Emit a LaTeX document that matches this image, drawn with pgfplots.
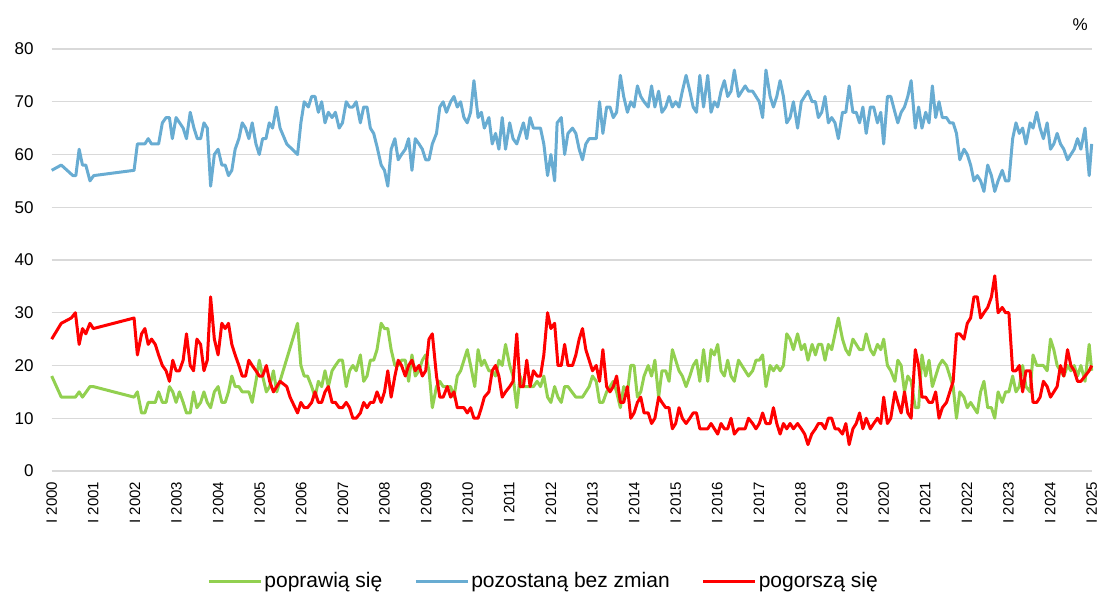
\documentclass[border=0pt]{standalone}
\usepackage{pgfplots}
\pgfplotsset{compat=1.18}
\usepackage{fontspec}
\setmainfont{Liberation Sans}
\definecolor{cgreen}{RGB}{146,208,80}
\definecolor{cblue}{RGB}{104,172,210}
\definecolor{cred}{RGB}{255,0,0}
\definecolor{cgrid}{RGB}{217,217,217}
\begin{document}
\begin{tikzpicture}
\path[use as bounding box] (-51.7pt,-122pt) rectangle (1046.3pt,471pt);
\begin{axis}[
  scale only axis, clip=false,
  width=1040pt, height=422pt,
  xmin=2000, xmax=2025, ymin=0, ymax=80,
  axis line style={draw=none},
  ymajorgrids, grid style={cgrid, line width=1.3pt},
  major tick length=0pt,
  ytick={0,10,...,80},
  xtick={2000,2001,...,2025},
  xticklabels={I 2000,I 2001,I 2002,I 2003,I 2004,I 2005,I 2006,I 2007,I 2008,I 2009,I 2010,I 2011,I 2012,I 2013,I 2014,I 2015,I 2016,I 2017,I 2018,I 2019,I 2020,I 2021,I 2022,I 2023,I 2024,I 2025},
  /pgf/number format/assume math mode=true,
  yticklabel style={font=\fontsize{17}{20}\selectfont, anchor=east, inner sep=0pt, xshift=-18pt},
  xticklabel style={font=\fontsize{15}{18}\selectfont, yshift=-10.5pt, rotate=90, anchor=east, inner sep=0pt},
  legend columns=3,
  legend style={at={(0.473,-0.261)}, anchor=center, draw=none, fill=none,
    font=\fontsize{21}{24}\selectfont,
    /tikz/every even column/.append style={column sep=30pt}},
  legend image code/.code={\draw[#1, line width=3pt] (0pt,0pt) -- (52pt,0pt);},
]
\addplot[cgreen, line width=3pt, line join=round] coordinates {
(2000.00,18) (2000.23,14) (2000.57,14) (2000.66,15) (2000.74,14) (2000.92,16) (2001.00,16) (2001.98,14) (2002.06,15) (2002.16,11) (2002.24,11) (2002.32,13) (2002.49,13) (2002.57,15) (2002.66,13) (2002.75,13) (2002.83,16) (2002.91,15) (2002.99,13) (2003.07,15) (2003.16,13) (2003.24,11) (2003.33,11) (2003.41,15) (2003.49,12) (2003.58,13) (2003.66,15) (2003.74,13) (2003.82,12) (2003.91,15) (2004.00,16) (2004.09,13) (2004.17,13) (2004.25,15) (2004.33,18) (2004.41,16) (2004.50,16) (2004.58,15) (2004.74,15) (2004.82,13) (2004.91,17) (2004.99,21) (2005.07,18) (2005.16,15) (2005.24,16) (2005.33,19) (2005.41,15) (2005.91,28) (2005.99,20) (2006.07,18) (2006.15,18) (2006.25,16) (2006.33,14) (2006.41,17) (2006.49,16) (2006.57,19) (2006.65,16) (2006.74,19) (2006.82,20) (2006.91,21) (2006.99,21) (2007.08,16) (2007.16,19) (2007.24,20) (2007.32,19) (2007.42,22) (2007.50,17) (2007.58,18) (2007.66,21) (2007.74,21) (2007.82,23) (2007.92,28) (2008.00,27) (2008.08,27) (2008.16,23) (2008.25,20) (2008.33,20) (2008.41,21) (2008.50,21) (2008.58,17) (2008.66,22) (2008.74,18) (2008.83,19) (2008.91,21) (2008.99,22) (2009.07,19) (2009.15,12) (2009.25,16) (2009.33,17) (2009.41,16) (2009.51,16) (2009.59,16) (2009.67,14) (2009.75,18) (2009.83,19) (2009.91,21) (2009.99,23) (2010.07,20) (2010.17,16) (2010.25,23) (2010.33,20) (2010.40,21) (2010.51,19) (2010.59,19) (2010.67,18) (2010.75,21) (2010.83,20) (2010.91,24) (2011.01,20) (2011.09,18) (2011.18,12) (2011.26,18) (2011.34,16) (2011.42,16) (2011.50,16) (2011.58,16) (2011.67,17) (2011.75,16) (2011.83,18) (2011.92,14) (2012.00,13) (2012.09,16) (2012.17,14) (2012.25,13) (2012.33,16) (2012.41,16) (2012.60,14) (2012.76,14) (2012.92,16) (2013.00,18) (2013.09,17) (2013.17,13) (2013.25,13) (2013.34,15) (2013.42,16) (2013.50,17) (2013.58,15) (2013.67,12) (2013.75,16) (2013.84,15) (2013.92,20) (2014.00,20) (2014.08,14) (2014.16,15) (2014.24,18) (2014.34,20) (2014.42,18) (2014.50,21) (2014.59,14) (2014.67,19) (2014.76,19) (2014.84,17) (2014.92,23) (2015.00,21) (2015.08,19) (2015.16,18) (2015.25,16) (2015.34,18) (2015.42,20) (2015.50,21) (2015.58,17) (2015.67,23) (2015.77,17) (2015.85,23) (2015.93,22) (2016.01,24) (2016.09,19) (2016.17,18) (2016.25,21) (2016.33,18) (2016.41,17) (2016.51,21) (2016.67,19) (2016.75,18) (2016.85,19) (2016.93,21) (2017.01,21) (2017.09,22) (2017.17,16) (2017.27,20) (2017.35,19) (2017.43,20) (2017.51,19) (2017.59,20) (2017.67,26) (2017.75,25) (2017.83,23) (2017.93,26) (2018.02,23) (2018.10,24) (2018.18,21) (2018.28,24) (2018.36,22) (2018.43,24) (2018.51,24) (2018.59,21) (2018.67,24) (2018.75,23) (2018.83,26) (2018.91,29) (2019.01,25) (2019.09,23) (2019.17,22) (2019.26,25) (2019.34,24) (2019.42,23) (2019.50,23) (2019.58,26) (2019.68,23) (2019.76,22) (2019.85,24) (2019.93,23) (2020.00,25) (2020.09,20) (2020.17,19) (2020.27,17) (2020.34,21) (2020.42,20) (2020.50,15) (2020.58,18) (2020.66,17) (2020.76,12) (2020.84,12) (2020.92,22) (2021.01,18) (2021.09,21) (2021.17,16) (2021.25,18) (2021.33,20) (2021.41,21) (2021.51,20) (2021.59,18) (2021.67,16) (2021.75,10) (2021.83,15) (2021.93,14) (2022.01,12) (2022.09,13) (2022.17,12) (2022.25,11) (2022.33,15) (2022.41,17) (2022.50,12) (2022.59,12) (2022.67,10) (2022.75,15) (2022.85,13) (2022.93,15) (2023.01,15) (2023.10,18) (2023.18,15) (2023.26,16) (2023.34,20) (2023.42,16) (2023.52,15) (2023.59,22) (2023.68,20) (2023.76,20) (2023.84,20) (2023.93,19) (2024.01,25) (2024.09,23) (2024.17,20) (2024.25,19) (2024.33,18) (2024.42,20) (2024.50,19) (2024.58,20) (2024.66,18) (2024.74,20) (2024.84,17) (2024.94,24) (2025.00,19)
};
\addlegendentry{poprawią się}
\addplot[cblue, line width=3pt, line join=round] coordinates {
(2000.00,57) (2000.23,58) (2000.51,56) (2000.58,56) (2000.66,61) (2000.74,58) (2000.82,58) (2000.92,55) (2001.01,56) (2001.98,57) (2002.06,62) (2002.24,62) (2002.32,63) (2002.40,62) (2002.57,62) (2002.66,66) (2002.75,67) (2002.83,67) (2002.90,63) (2002.99,67) (2003.16,65) (2003.24,63) (2003.33,68) (2003.42,65) (2003.50,63) (2003.58,63) (2003.66,66) (2003.74,65) (2003.82,54) (2003.91,60) (2004.00,61) (2004.09,58) (2004.17,58) (2004.25,56) (2004.33,57) (2004.41,61) (2004.50,63) (2004.58,66) (2004.66,65) (2004.74,63) (2004.82,66) (2004.91,62) (2004.99,60) (2005.07,63) (2005.15,63) (2005.23,66) (2005.31,65) (2005.40,69) (2005.49,65) (2005.65,62) (2005.91,60) (2005.99,66) (2006.07,70) (2006.17,69) (2006.25,71) (2006.33,71) (2006.41,68) (2006.49,70) (2006.57,66) (2006.65,68) (2006.74,67) (2006.82,68) (2006.91,65) (2006.99,66) (2007.08,70) (2007.16,69) (2007.24,69) (2007.32,70) (2007.42,66) (2007.50,69) (2007.58,69) (2007.66,65) (2007.74,64) (2007.82,61.5) (2007.92,58) (2008.00,57) (2008.08,54) (2008.16,61) (2008.25,63) (2008.33,59) (2008.41,60) (2008.50,61) (2008.58,63) (2008.66,57) (2008.74,63) (2008.83,62) (2008.91,61) (2008.99,59) (2009.07,59) (2009.15,62) (2009.25,64) (2009.33,69) (2009.41,70) (2009.49,68) (2009.59,70) (2009.67,71) (2009.75,69) (2009.83,70) (2009.91,67) (2009.99,66) (2010.07,68) (2010.15,74) (2010.25,67) (2010.33,68) (2010.40,65) (2010.51,67) (2010.59,62) (2010.67,64) (2010.75,61) (2010.83,67) (2010.91,61) (2011.01,66) (2011.09,63) (2011.18,62) (2011.26,64) (2011.34,66) (2011.42,63) (2011.50,67) (2011.58,65) (2011.75,65) (2011.83,62) (2011.92,56) (2012.00,60) (2012.09,55) (2012.15,66) (2012.25,67) (2012.33,60) (2012.41,64) (2012.52,65) (2012.60,64) (2012.68,61) (2012.76,59) (2012.84,62) (2012.92,63) (2013.00,63) (2013.09,63) (2013.17,70) (2013.25,64) (2013.34,69) (2013.42,69) (2013.50,67) (2013.58,68) (2013.67,75) (2013.75,71) (2013.84,68) (2013.92,70) (2014.00,69) (2014.08,73) (2014.16,71) (2014.24,70) (2014.34,69) (2014.42,73) (2014.50,69) (2014.59,72) (2014.67,68) (2014.76,69) (2014.84,71) (2014.92,69) (2015.00,70) (2015.08,69) (2015.16,72) (2015.25,75) (2015.34,72) (2015.42,69) (2015.50,68) (2015.58,75) (2015.67,69) (2015.77,75) (2015.85,68) (2015.93,70) (2016.01,69) (2016.09,72) (2016.17,74) (2016.25,71) (2016.33,72) (2016.41,76) (2016.51,71) (2016.67,73) (2016.75,72) (2016.85,72) (2016.93,71) (2017.01,70) (2017.09,67) (2017.17,76) (2017.27,71) (2017.35,69) (2017.43,71) (2017.51,74) (2017.59,71) (2017.67,66) (2017.75,67) (2017.83,70) (2017.93,65) (2018.02,70) (2018.18,72) (2018.28,70) (2018.36,70) (2018.43,67) (2018.51,68) (2018.59,71) (2018.67,66) (2018.75,67) (2018.83,66) (2018.91,63) (2019.01,68) (2019.09,68) (2019.17,73) (2019.26,68) (2019.34,68) (2019.42,66) (2019.50,69) (2019.58,64) (2019.68,69) (2019.76,69) (2019.85,66) (2019.93,68) (2020.00,62) (2020.09,71) (2020.17,71) (2020.27,68) (2020.34,66) (2020.42,68) (2020.50,69) (2020.58,71) (2020.66,74) (2020.76,65) (2020.84,69) (2020.92,65) (2021.01,68) (2021.09,66) (2021.17,73) (2021.25,67) (2021.33,70) (2021.41,67) (2021.51,67) (2021.59,66) (2021.67,66) (2021.75,64) (2021.83,59) (2021.93,61) (2022.01,60) (2022.09,58) (2022.17,55) (2022.25,56) (2022.33,55) (2022.41,53) (2022.50,58) (2022.59,56) (2022.67,53) (2022.75,55) (2022.85,57) (2022.93,55) (2023.01,55) (2023.10,63) (2023.18,66) (2023.26,64) (2023.34,65) (2023.42,62) (2023.52,66) (2023.59,65) (2023.68,68) (2023.76,65) (2023.84,63) (2023.93,66) (2024.01,61) (2024.09,62) (2024.17,64) (2024.25,62) (2024.33,61) (2024.42,59) (2024.50,60) (2024.58,61) (2024.66,63) (2024.74,61) (2024.84,65) (2024.94,56) (2025.00,62)
};
\addlegendentry{pozostaną bez zmian}
\addplot[cred, line width=3pt, line join=round] coordinates {
(2000.00,25) (2000.23,28) (2000.47,29) (2000.57,30) (2000.66,24) (2000.74,27) (2000.82,26) (2000.92,28) (2001.00,27) (2001.98,29) (2002.06,22) (2002.16,26) (2002.24,27) (2002.32,24) (2002.40,25) (2002.49,24) (2002.57,22) (2002.66,20) (2002.75,19) (2002.83,17) (2002.91,21) (2002.99,19) (2003.07,19) (2003.16,21) (2003.24,26) (2003.33,20) (2003.41,19) (2003.49,25) (2003.58,24) (2003.66,19) (2003.74,21) (2003.82,33) (2003.91,25) (2004.00,22) (2004.09,28) (2004.17,27) (2004.25,28) (2004.33,24) (2004.41,22) (2004.50,20) (2004.58,18) (2004.66,18) (2004.74,21) (2004.82,20) (2004.91,19) (2004.99,18) (2005.07,18) (2005.16,20) (2005.24,17) (2005.33,15) (2005.49,17) (2005.65,16) (2005.73,14) (2005.91,11) (2005.99,13) (2006.07,12) (2006.15,12) (2006.25,13) (2006.33,15) (2006.41,13) (2006.49,13) (2006.57,15) (2006.65,16) (2006.74,13) (2006.82,13) (2006.91,12) (2006.99,12) (2007.08,13) (2007.16,12) (2007.24,10) (2007.32,10) (2007.42,11) (2007.50,13) (2007.58,12) (2007.66,13) (2007.74,13) (2007.82,15) (2007.92,13) (2008.00,15) (2008.08,19) (2008.16,14) (2008.25,18) (2008.33,21) (2008.41,20) (2008.50,18) (2008.58,20) (2008.66,21) (2008.74,19) (2008.83,20) (2008.91,18) (2008.99,19) (2009.07,25) (2009.15,26) (2009.25,18) (2009.33,14) (2009.41,14) (2009.51,16) (2009.59,14) (2009.67,15) (2009.75,12) (2009.83,12) (2009.91,12) (2009.99,11) (2010.07,12) (2010.15,10) (2010.25,10) (2010.33,12) (2010.40,14) (2010.51,15) (2010.59,19) (2010.67,20) (2010.75,18) (2010.83,14) (2010.91,15) (2011.01,16) (2011.09,17) (2011.18,26) (2011.26,16) (2011.34,16) (2011.42,21) (2011.50,16) (2011.58,19) (2011.67,18) (2011.75,18) (2011.83,22) (2011.92,30) (2012.00,27) (2012.09,28) (2012.17,20) (2012.25,20) (2012.33,24) (2012.41,20) (2012.52,20) (2012.60,22) (2012.68,25) (2012.76,27) (2012.84,23) (2012.92,21) (2013.00,19) (2013.09,20) (2013.17,17) (2013.25,23) (2013.34,16) (2013.42,15) (2013.50,16) (2013.58,18) (2013.67,13) (2013.75,13) (2013.84,16) (2013.92,10) (2014.00,11) (2014.08,13) (2014.16,14) (2014.24,11) (2014.34,11) (2014.42,9) (2014.50,10) (2014.59,14) (2014.67,13) (2014.76,12) (2014.84,12) (2014.92,8) (2015.00,9) (2015.08,12) (2015.16,10) (2015.25,9) (2015.34,10) (2015.42,11) (2015.50,11) (2015.58,8) (2015.67,8) (2015.77,8) (2015.85,9) (2015.93,8) (2016.01,7) (2016.09,9) (2016.17,8) (2016.25,8) (2016.33,10) (2016.41,7) (2016.51,8) (2016.67,8) (2016.75,10) (2016.85,9) (2016.93,8) (2017.01,9) (2017.09,11) (2017.17,9) (2017.27,9) (2017.35,12) (2017.43,9) (2017.51,7) (2017.59,9) (2017.67,8) (2017.75,9) (2017.83,8) (2017.93,9) (2018.02,8) (2018.10,7) (2018.18,5) (2018.27,7) (2018.36,8) (2018.43,9) (2018.51,9) (2018.59,8) (2018.67,10) (2018.75,10) (2018.83,8) (2018.91,8) (2019.01,7) (2019.09,9) (2019.17,5) (2019.26,8) (2019.34,9) (2019.42,11) (2019.50,8) (2019.58,10) (2019.68,8) (2019.76,9) (2019.85,10) (2019.93,9) (2020.00,14) (2020.09,9) (2020.17,10) (2020.27,15) (2020.34,13) (2020.42,11) (2020.50,15) (2020.58,11) (2020.66,10) (2020.76,23) (2020.84,20) (2020.92,14) (2021.01,14) (2021.09,13) (2021.17,13) (2021.25,15) (2021.33,10) (2021.41,12) (2021.51,13) (2021.59,15) (2021.67,17) (2021.75,26) (2021.83,26) (2021.93,25) (2022.01,28) (2022.09,29) (2022.17,33) (2022.25,33) (2022.33,29) (2022.41,30) (2022.50,31) (2022.59,33) (2022.67,37) (2022.75,30) (2022.85,31) (2022.93,30) (2023.01,30) (2023.10,19) (2023.18,19) (2023.26,20) (2023.34,15) (2023.42,19) (2023.52,19) (2023.59,13) (2023.68,13) (2023.76,14) (2023.84,17) (2023.93,16) (2024.01,14) (2024.09,15) (2024.17,16) (2024.25,20) (2024.33,18) (2024.42,23) (2024.50,20) (2024.58,19) (2024.66,17) (2024.74,17) (2024.84,18) (2024.94,19) (2025.00,20)
};
\addlegendentry{pogorszą się}
\node[font=\fontsize{17}{20}\selectfont, anchor=center] at (axis description cs:0.989,1.057) {\%};
\end{axis}
\end{tikzpicture}
\end{document}
